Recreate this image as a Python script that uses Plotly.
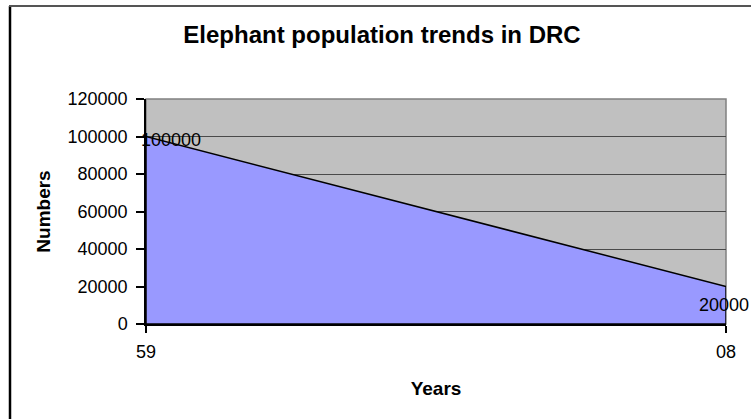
import plotly.graph_objects as go

# ---- data ----
years = ["59", "08"]
numbers = [100000, 20000]
y_ticks = [0, 20000, 40000, 60000, 80000, 100000, 120000]
title_text = "Elephant population trends in DRC"
x_title = "Years"
y_title = "Numbers"

W, H = 751, 419
L, R, T, B = 146, 25, 98.5, 94.5
PW, PH = W - L - R, H - T - B
FONT = "Liberation Sans, Arial, Helvetica, sans-serif"

n = len(years)
xs = list(range(n))
poly_x = [xs[0]] + xs + [xs[-1], xs[0]]
poly_y = [0] + numbers + [0, 0]

fig = go.Figure()
fig.add_trace(go.Scatter(
    x=poly_x, y=poly_y, mode="lines", fill="toself",
    fillcolor="#9999FF", line=dict(color="black", width=1.5),
    hoverinfo="skip", showlegend=False,
))

def px_to_paper_x(px):
    return (px - L) / PW

def px_to_paper_y(py):
    return (H - B - py) / PH

shapes = [
    # plot-area border (gray)
    dict(type="rect", xref="paper", yref="paper", x0=0, x1=1, y0=0, y1=1,
         line=dict(color="#808080", width=1.5), layer="below"),
    # outer chart border (left & top)
    dict(type="line", xref="paper", yref="paper",
         x0=px_to_paper_x(10), x1=px_to_paper_x(10),
         y0=px_to_paper_y(5), y1=px_to_paper_y(H + 10),
         line=dict(color="black", width=2.5)),
    dict(type="line", xref="paper", yref="paper",
         x0=px_to_paper_x(9), x1=px_to_paper_x(W + 10),
         y0=px_to_paper_y(5), y1=px_to_paper_y(5),
         line=dict(color="#555555", width=2)),
]

annotations = []
label_shifts = [(25, -3), (-2, -18)]
for i, (xi, v) in enumerate(zip(xs, numbers)):
    dx, dy = label_shifts[i]
    annotations.append(dict(
        x=xi, y=v, xref="x", yref="y", text=str(v), showarrow=False,
        xshift=dx, yshift=dy, font=dict(family=FONT, size=18, color="black"),
        xanchor="center", yanchor="middle",
    ))

fig.update_layout(
    width=W, height=H,
    margin=dict(l=L, r=R, t=T, b=B),
    paper_bgcolor="white", plot_bgcolor="#C0C0C0",
    font=dict(family=FONT, size=18, color="black"),
    title=dict(text=f"<b>{title_text}</b>", x=382 / W, xanchor="center",
               y=1 - 35 / H, yanchor="middle",
               font=dict(family=FONT, size=24, color="black")),
    shapes=shapes,
    annotations=annotations,
    showlegend=False,
)

fig.update_xaxes(
    range=[0, n - 1], tickmode="array", tickvals=xs, ticktext=years,
    showgrid=False, zeroline=False, showline=True, linecolor="black", linewidth=1.5,
    ticks="outside", ticklen=7, tickcolor="black", tickwidth=1.5,
    ticklabelstandoff=4,
    tickfont=dict(family=FONT, size=18, color="black"),
    title=dict(text=f"<b>{x_title}</b>", font=dict(family=FONT, size=19, color="black"),
               standoff=20),
)
fig.update_yaxes(
    range=[0, 120000], tickmode="array", tickvals=y_ticks,
    ticktext=[str(t) for t in y_ticks],
    showgrid=True, gridcolor="#4a4a4a", gridwidth=1.2,
    zeroline=False, showline=True, linecolor="black", linewidth=1.5,
    ticks="outside", ticklen=8, tickcolor="black", tickwidth=1.5,
    ticklabelstandoff=5,
    tickfont=dict(family=FONT, size=18, color="black"),
    title=dict(text=f"<b>{y_title}</b>", font=dict(family=FONT, size=19, color="black"),
               standoff=12),
)

fig.write_html("out.html")
